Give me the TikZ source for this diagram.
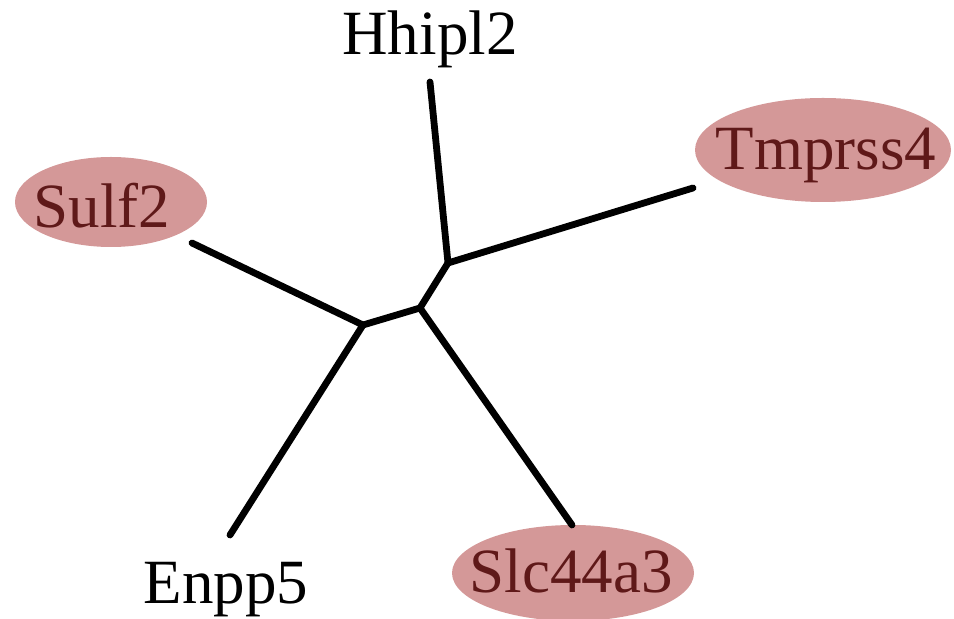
\documentclass[tikz,border=0pt]{standalone}
\usepackage{fontspec}
\setmainfont{Liberation Serif}
\definecolor{ellfill}{RGB}{212,152,152}
\definecolor{elltext}{RGB}{95,25,25}
\begin{document}
\begin{tikzpicture}[x=0.5pt,y=-0.5pt,
  lbl/.style={inner sep=0pt, anchor=base, font=\fontsize{31.5}{34}\selectfont},
  leaf/.style={lbl, text=elltext},
  blob/.style={fill=ellfill},
  edge/.style={line width=3.4pt, line cap=round, line join=round}]
\useasboundingbox (0,0) rectangle (954,619);
% highlighted leaf backgrounds
\fill[blob] (111,202) ellipse [x radius=48pt, y radius=22.5pt];
\fill[blob] (823,150) ellipse [x radius=64pt, y radius=26pt];
\fill[blob] (573,573) ellipse [x radius=60.5pt, y radius=24pt];
% leaf labels
\node[leaf] (sulf) at (102,228) {Sulf2};
\node[leaf] (tmp) at (826,170) {Tmprss4};
\node[leaf] (slc) at (571,593) {Slc44a3};
\node[lbl] (hhip) at (430,55) {Hhipl2};
\node[lbl] (enpp) at (226,604) {Enpp5};
% end points of edges
\coordinate (eh) at (430,82);
\coordinate (et) at (693,188);
\coordinate (es) at (192,243);
\coordinate (ee) at (230,535);
\coordinate (el) at (572,525);
% internal nodes
\coordinate (n1) at (448,263);
\coordinate (n2) at (420,308);
\coordinate (n3) at (363,325);
\draw[edge] (eh) -- (n1) -- (et);
\draw[edge] (n1) -- (n2) -- (n3);
\draw[edge] (n2) -- (el);
\draw[edge] (es) -- (n3) -- (ee);
\end{tikzpicture}
\end{document}
